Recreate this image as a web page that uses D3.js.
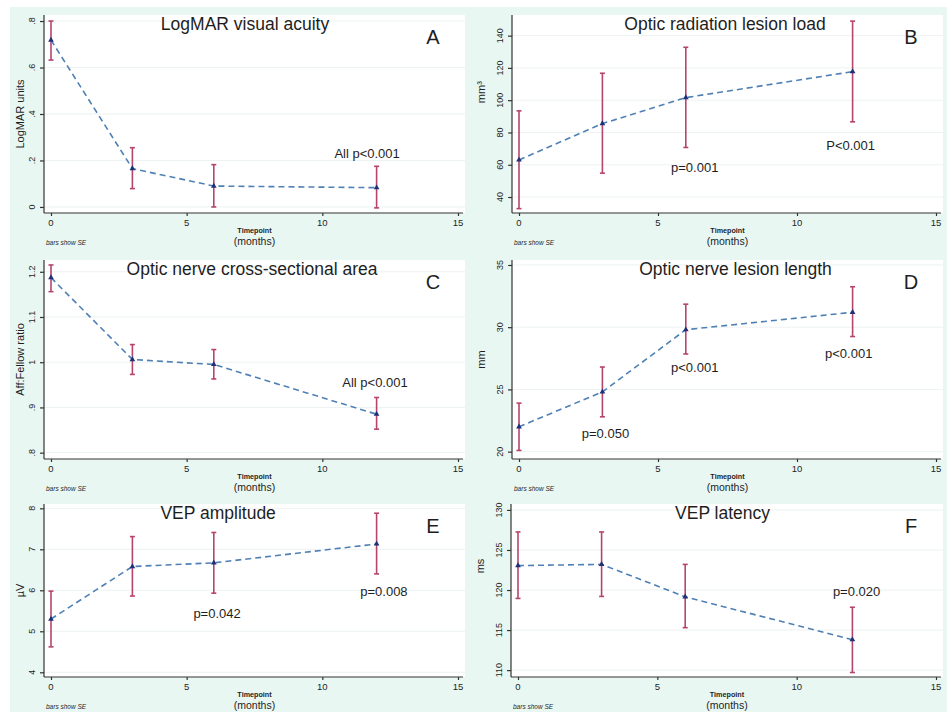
<!DOCTYPE html>
<html>
<head>
<meta charset="utf-8">
<script src="https://cdn.jsdelivr.net/npm/d3@7"></script>
<style>
  body { margin: 0; background: #fff; }
  text { font-family: 'Liberation Sans', Arial, sans-serif; fill: #1e1e1e; }
</style>
</head>
<body>
<svg id="fig" width="947" height="714"></svg>
<script>
// follow-up timepoints (months)
const timepoints = [0, 3, 6, 12];

// A: LogMAR visual acuity
const acuityMean = [0.718, 0.165, 0.09, 0.083];
const acuityLo = [0.632, 0.079, 0.0, -0.004];
const acuityHi = [0.8, 0.255, 0.182, 0.175];
const acuityTicks = [0, 0.2, 0.4, 0.6, 0.8];

// B: optic radiation lesion load
const radiationMean = [63, 85.5, 101.6, 117.7];
const radiationLo = [32.8, 54.8, 70.7, 86.6];
const radiationHi = [93.4, 116.7, 132.8, 149];
const radiationTicks = [40, 60, 80, 100, 120, 140];

// C: optic nerve cross-sectional area
const areaMean = [1.187, 1.006, 0.995, 0.885];
const areaLo = [1.156, 0.973, 0.963, 0.852];
const areaHi = [1.215, 1.039, 1.028, 0.922];
const areaTicks = [0.8, 0.9, 1, 1.1, 1.2];

// D: optic nerve lesion length
const lengthMean = [22.0, 24.8, 29.8, 31.2];
const lengthLo = [20.1, 22.8, 27.85, 29.25];
const lengthHi = [23.9, 26.8, 31.85, 33.25];
const lengthTicks = [20, 25, 30, 35];

// E: VEP amplitude
const ampMean = [5.3, 6.58, 6.67, 7.13];
const ampLo = [4.62, 5.86, 5.93, 6.4];
const ampHi = [5.98, 7.31, 7.41, 7.88];
const ampTicks = [4, 5, 6, 7, 8];

// F: VEP latency
const latMean = [123.05, 123.2, 119.15, 113.8];
const latLo = [118.95, 119.2, 115.3, 109.7];
const latHi = [127.25, 127.25, 123.2, 117.85];
const latTicks = [110, 115, 120, 125, 130];

const xTicks = [0, 5, 10, 15];

const panels = [
  { letter: 'A', title: 'LogMAR visual acuity', titleAt: 7.15, ylab: 'LogMAR units',
    mean: acuityMean, lo: acuityLo, hi: acuityHi, ticks: acuityTicks, yDomain: [-0.026, 0.826],
    notes: [['All p<0.001', 11.65, 0.211]] },
  { letter: 'B', title: 'Optic radiation lesion load', titleAt: 7.41, ylab: 'mm³', ylabAt: 105,
    mean: radiationMean, lo: radiationLo, hi: radiationHi, ticks: radiationTicks, yDomain: [30.1, 152.8],
    notes: [['p=0.001', 6.32, 55.5], ['P<0.001', 11.93, 69.1]] },
  { letter: 'C', title: 'Optic nerve cross-sectional area', titleAt: 7.41, ylab: 'Aff:Fellow ratio',
    mean: areaMean, lo: areaLo, hi: areaHi, ticks: areaTicks, yDomain: [0.786, 1.226],
    notes: [['All p<0.001', 11.94, 0.945]] },
  { letter: 'D', title: 'Optic nerve lesion length', titleAt: 7.79, ylab: 'mm',
    mean: lengthMean, lo: lengthLo, hi: lengthHi, ticks: lengthTicks, yDomain: [19.41, 35.4],
    notes: [['p=0.050', 3.11, 21.1], ['p<0.001', 6.32, 26.4], ['p<0.001', 11.86, 27.53]] },
  { letter: 'E', title: 'VEP amplitude', titleAt: 6.16, ylab: 'µV',
    mean: ampMean, lo: ampLo, hi: ampHi, ticks: ampTicks, yDomain: [3.885, 8.105],
    notes: [['p=0.042', 6.12, 5.32], ['p=0.008', 12.27, 5.86]] },
  { letter: 'F', title: 'VEP latency', titleAt: 7.34, ylab: 'ms', ylabAt: 123,
    mean: latMean, lo: latLo, hi: latHi, ticks: latTicks, yDomain: [109.14, 130.74],
    notes: [['p=0.020', 12.15, 119.26]] }
];

// plot region boxes: [left, top, right, bottom]
const boxes = [
  [44, 15, 465, 213], [512, 15, 943, 213],
  [44, 260, 465, 459], [512, 260, 943, 459],
  [44, 504, 465, 677], [511, 504, 943, 677]
];

const svg = d3.select('#fig');

svg.append('rect')
  .attr('x', 10).attr('y', 7)
  .attr('width', 937).attr('height', 705)
  .attr('fill', '#e9f7f3');

const fmt = v => String(+v.toFixed(2)).replace(/^0\./, '.');

const drawPanel = (p, box, i) => {
  const [left, top, right, bottom] = box;
  const g = svg.append('g');
  const right_col = i % 2 === 1;

  const x = d3.scaleLinear().domain([0, 15]).range([left + 7, right - 7]);
  const y = d3.scaleLinear().domain(p.yDomain).range([bottom, top]);

  g.append('rect')
    .attr('x', left).attr('y', top)
    .attr('width', right - left).attr('height', bottom - top)
    .attr('fill', '#fff');

  // faint grid
  g.selectAll('.grid')
    .data(p.ticks)
    .enter()
    .append('line')
    .attr('x1', left).attr('x2', right)
    .attr('y1', d => y(d)).attr('y2', d => y(d))
    .attr('stroke', '#edf2f2')
    .attr('stroke-width', 1);

  // axes
  const yAxis = d3.axisLeft(y).tickValues(p.ticks).tickSize(4).tickFormat('');
  g.append('g')
    .attr('transform', 'translate(' + left + ',0)')
    .call(yAxis)
    .call(a => a.select('.domain').attr('d', 'M0,' + top + 'V' + bottom))
    .call(a => a.selectAll('path, line').attr('stroke', '#333').attr('stroke-width', 1.2));

  const xAxis = d3.axisBottom(x).tickValues(xTicks).tickSize(3).tickFormat('');
  g.append('g')
    .attr('transform', 'translate(0,' + bottom + ')')
    .call(xAxis)
    .call(a => a.select('.domain').attr('d', 'M' + left + ',0H' + (right - 2)))
    .call(a => a.selectAll('path, line').attr('stroke', '#333').attr('stroke-width', 1.2));

  // rotated y tick labels
  g.selectAll('.ytl')
    .data(p.ticks)
    .enter()
    .append('text')
    .attr('transform', d => 'translate(' + (left - 12) + ',' + y(d) + ') rotate(-90)')
    .attr('dy', '0.35em')
    .attr('text-anchor', 'middle')
    .attr('font-size', 9)
    .text(fmt);

  g.selectAll('.xtl')
    .data(xTicks)
    .enter()
    .append('text')
    .attr('x', d => x(d))
    .attr('y', bottom + 10)
    .attr('dy', '0.35em')
    .attr('text-anchor', 'middle')
    .attr('font-size', 9.5)
    .text(d => d);

  const cx = (left + right) / 2;
  g.append('text')
    .attr('x', cx).attr('y', bottom + 20)
    .attr('text-anchor', 'middle')
    .attr('font-size', 8)
    .attr('font-weight', 'bold')
    .attr('transform', 'translate(' + cx + ',0) scale(0.9,1) translate(' + -cx + ',0)')
    .text('Timepoint');
  g.append('text')
    .attr('x', cx).attr('y', bottom + 32)
    .attr('text-anchor', 'middle')
    .attr('font-size', 10.5)
    .text('(months)');
  g.append('text')
    .attr('x', left + 2).attr('y', bottom + 32)
    .attr('font-size', 6.5)
    .attr('font-style', 'italic')
    .text('bars show SE');

  // y axis title
  const ly = p.ylabAt !== undefined ? y(p.ylabAt) : (top + bottom) / 2;
  const lx = right_col ? left - 31 : left - 24;
  g.append('text')
    .attr('transform', 'translate(' + lx + ',' + ly + ') rotate(-90)')
    .attr('dy', '0.35em')
    .attr('text-anchor', 'middle')
    .attr('font-size', 11)
    .text(p.ylab);

  // error bars
  const bars = g.selectAll('.eb')
    .data(timepoints.map((t, k) => ({ t, lo: p.lo[k], hi: p.hi[k] })))
    .enter()
    .append('g')
    .attr('stroke', '#b5446e')
    .attr('stroke-width', 1.6);
  bars.append('line')
    .attr('x1', d => x(d.t)).attr('x2', d => x(d.t))
    .attr('y1', d => y(d.lo)).attr('y2', d => y(d.hi));
  bars.append('line')
    .attr('x1', d => x(d.t) - 2.5).attr('x2', d => x(d.t) + 2.5)
    .attr('y1', d => y(d.lo)).attr('y2', d => y(d.lo));
  bars.append('line')
    .attr('x1', d => x(d.t) - 2.5).attr('x2', d => x(d.t) + 2.5)
    .attr('y1', d => y(d.hi)).attr('y2', d => y(d.hi));

  // mean line
  const pts = timepoints.map((t, k) => [t, p.mean[k]]);
  g.append('path')
    .datum(pts)
    .attr('d', d3.line().x(d => x(d[0])).y(d => y(d[1])))
    .attr('fill', 'none')
    .attr('stroke', '#4f80b5')
    .attr('stroke-width', 1.6)
    .attr('stroke-dasharray', '6,4');

  g.selectAll('.mk')
    .data(pts)
    .enter()
    .append('path')
    .attr('d', d3.symbol(d3.symbolTriangle, 14))
    .attr('transform', d => 'translate(' + x(d[0]) + ',' + y(d[1]) + ')')
    .attr('fill', '#1f2f78');

  // titles and notes
  g.append('text')
    .attr('x', x(p.titleAt)).attr('y', top + 15)
    .attr('text-anchor', 'middle')
    .attr('font-size', 17.5)
    .text(p.title);
  g.append('text')
    .attr('x', right - 32).attr('y', top + 29)
    .attr('text-anchor', 'middle')
    .attr('font-size', 20)
    .text(p.letter);

  g.selectAll('.note')
    .data(p.notes)
    .enter()
    .append('text')
    .attr('x', d => x(d[1]))
    .attr('y', d => y(d[2]))
    .attr('text-anchor', 'middle')
    .attr('font-size', 13)
    .text(d => d[0]);
};

panels.forEach((p, i) => drawPanel(p, boxes[i], i));
</script>
</body>
</html>
